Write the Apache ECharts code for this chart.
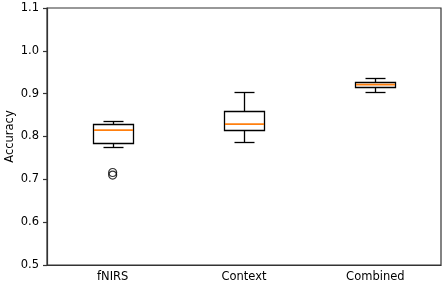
<!DOCTYPE html>
<html>
<head>
<meta charset="utf-8">
<script src="https://cdn.jsdelivr.net/npm/echarts@6/dist/echarts.min.js"></script>
<style>html,body{margin:0;padding:0;background:#fff;}#c{width:447px;height:288px;}</style>
</head>
<body>
<div id="c"></div>
<script>
const categories = ['fNIRS', 'Context', 'Combined'];
const lowerWhisker = [0.775, 0.788, 0.905];
const q1 = [0.785, 0.815, 0.915];
const median = [0.815, 0.829, 0.921];
const q3 = [0.830, 0.859, 0.927];
const upperWhisker = [0.836, 0.904, 0.937];
const outliers = [[0, 0.716], [0, 0.710]];
const yTicks = [0.5, 0.6, 0.7, 0.8, 0.9, 1.0, 1.1];

const boxData = categories.map((c, i) => [i, lowerWhisker[i], q1[i], median[i], q3[i], upperWhisker[i]]);

const chart = echarts.init(document.getElementById('c'));
const font = 'DejaVu Sans';
const axisCol = '#333';
const fs = 11.5;
function crisp(v){ return Math.round(v) + 0.5; }

chart.setOption({
  animation: false,
  grid: { left: 47, right: 6, top: 8, bottom: 23, show: true, borderColor: axisCol, borderWidth: 1.2,
          containLabel: false, outerBoundsMode: 'none' },
  xAxis: {
    type: 'category', data: categories, boundaryGap: true,
    axisLine: { lineStyle: { color: axisCol, width: 1.2 } },
    axisTick: { alignWithLabel: true, length: 4, lineStyle: { color: axisCol, width: 1.2 } },
    axisLabel: { color: '#000', fontFamily: font, fontSize: fs, margin: 6 },
    splitLine: { show: false }
  },
  yAxis: {
    type: 'value', min: yTicks[0], max: yTicks[yTicks.length - 1], interval: 0.1,
    name: 'Accuracy', nameLocation: 'middle', nameGap: 31, nameMoveOverlap: false,
    nameTextStyle: { color: '#000', fontFamily: font, fontSize: fs },
    axisLine: { show: true, lineStyle: { color: axisCol, width: 1.2 } },
    axisTick: { show: true, length: 4, lineStyle: { color: axisCol, width: 1.2 } },
    axisLabel: { color: '#000', fontFamily: font, fontSize: fs, margin: 8, formatter: v => v.toFixed(1) },
    splitLine: { show: false }
  },
  series: [
    {
      type: 'custom',
      data: boxData,
      encode: { x: 0, y: [1, 2, 3, 4, 5] },
      renderItem: function (params, api) {
        const idx = api.value(0);
        const pLo = api.coord([idx, api.value(1)]);
        const pQ1 = api.coord([idx, api.value(2)]);
        const pMed = api.coord([idx, api.value(3)]);
        const pQ3 = api.coord([idx, api.value(4)]);
        const pHi = api.coord([idx, api.value(5)]);
        const cx = crisp(pMed[0]);
        const hw = 20, cw = 10;
        const st = { stroke: '#000', lineWidth: 1.3, fill: null };
        const yLo = crisp(pLo[1]), yQ1 = crisp(pQ1[1]), yQ3 = crisp(pQ3[1]), yHi = crisp(pHi[1]);
        return {
          type: 'group',
          children: [
            { type: 'line', shape: { x1: cx, y1: yLo, x2: cx, y2: yQ1 }, style: st },
            { type: 'line', shape: { x1: cx, y1: yQ3, x2: cx, y2: yHi }, style: st },
            { type: 'line', shape: { x1: cx - cw, y1: yLo, x2: cx + cw, y2: yLo }, style: st },
            { type: 'line', shape: { x1: cx - cw, y1: yHi, x2: cx + cw, y2: yHi }, style: st },
            { type: 'rect', shape: { x: cx - hw, y: yQ3, width: 2 * hw, height: yQ1 - yQ3 }, style: { stroke: '#000', lineWidth: 1.3, fill: '#fff' } },
            { type: 'line', shape: { x1: cx - hw + 0.5, y1: pMed[1], x2: cx + hw - 0.5, y2: pMed[1] }, style: { stroke: '#ff7f0e', lineWidth: 1.6 } }
          ]
        };
      }
    },
    {
      type: 'scatter',
      data: outliers,
      symbol: 'circle',
      symbolSize: 8,
      itemStyle: { color: 'rgba(0,0,0,0)', borderColor: '#000', borderWidth: 1.2 }
    }
  ]
});
</script>
</body>
</html>
